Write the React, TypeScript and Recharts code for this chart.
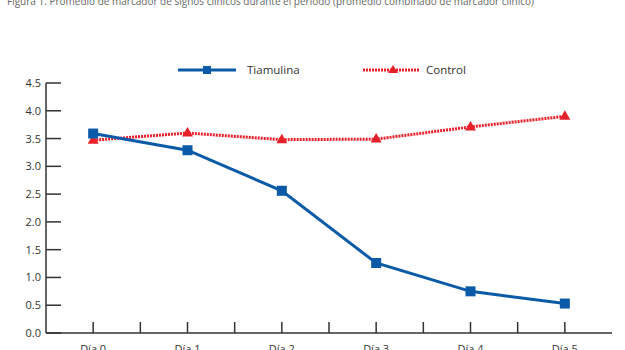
import { LineChart, Line, XAxis, YAxis, Legend } from "recharts";

const days = ["Día 0", "Día 1", "Día 2", "Día 3", "Día 4", "Día 5"];
const tiamulina = [3.59, 3.29, 2.56, 1.26, 0.75, 0.53];
const control = [3.47, 3.6, 3.48, 3.49, 3.71, 3.9];
const yTicks = [0, 0.5, 1, 1.5, 2, 2.5, 3, 3.5, 4, 4.5];
const xTicks = [0, 0.5, 1, 1.5, 2, 2.5, 3, 3.5, 4, 4.5, 5];

const BLUE = "#0b5aa8";
const RED = "#e8202a";
const AXIS = "#333";
const FONT = "'Open Sans', sans-serif";

const data = days.map((d, i) => ({ x: i, day: d, tiamulina: tiamulina[i], control: control[i] }));

function XTick(props: any) {
  const { x, y, payload } = props;
  const v = payload.value as number;
  const label = Number.isInteger(v) ? days[v] : "";
  return (
    <g>
      <line x1={x} x2={x} y1={y} y2={y - 11} stroke={AXIS} strokeWidth={1.5} />
      {label && (
        <text x={x} y={y + 20} textAnchor="middle" fontSize={11} fill={AXIS} fontFamily={FONT}>
          {label}
        </text>
      )}
    </g>
  );
}

function YTick(props: any) {
  const { x, y, payload } = props;
  return (
    <g>
      <line x1={x} x2={x + 15} y1={y} y2={y} stroke={AXIS} strokeWidth={1.5} />
      <text x={x - 5} y={y + 4} textAnchor="end" fontSize={11} fill={AXIS} fontFamily={FONT}>
        {(payload.value as number).toFixed(1)}
      </text>
    </g>
  );
}

function SquareDot(props: any) {
  const { cx, cy, index } = props;
  return <rect key={`s${index}`} x={cx - 5} y={cy - 5} width={10} height={10} fill={BLUE} />;
}

function TriangleDot(props: any) {
  const { cx, cy, index } = props;
  return <path key={`t${index}`} d={`M${cx},${cy - 6} L${cx + 5.5},${cy + 3.5} L${cx - 5.5},${cy + 3.5} Z`} fill={RED} />;
}

function renderLegend() {
  return (
    <svg width={625} height={20} style={{ display: "block" }}>
      <line x1={178} x2={236} y1={10} y2={10} stroke={BLUE} strokeWidth={3} />
      <rect x={203} y={6} width={8} height={8} fill={BLUE} />
      <text x={247} y={14} fontSize={11.5} fill={AXIS} fontFamily={FONT}>Tiamulina</text>
      <line x1={363} x2={420} y1={10} y2={10} stroke={RED} strokeWidth={3} strokeDasharray="2 1" />
      <path d="M393,5 L398,13 L388,13 Z" fill={RED} />
      <text x={426} y={14} fontSize={11.5} fill={AXIS} fontFamily={FONT}>Control</text>
    </svg>
  );
}

export default function App() {
  return (
    <div style={{ position: "fixed", left: 0, top: 0, width: 625, height: 350, overflow: "hidden", background: "#fff" }}>
      <div style={{ position: "absolute", top: -4, left: 7, fontSize: 10, lineHeight: "10px", color: "#666", fontFamily: FONT, whiteSpace: "nowrap" }}>
        Figura 1. Promedio de marcador de signos clínicos durante el periodo (promedio combinado de marcador clínico)
      </div>
      <LineChart width={625} height={365} data={data} margin={{ top: 83, right: 13, bottom: 2, left: 0 }}>
        <XAxis
          type="number"
          dataKey="x"
          domain={[-0.5, 5.5]}
          ticks={xTicks}
          interval={0}
          tickSize={0}
          tickMargin={0}
          tickLine={false}
          height={30}
          axisLine={{ stroke: AXIS, strokeWidth: 1.5 }}
          tick={<XTick />}
        />
        <YAxis
          domain={[0, 4.5]}
          ticks={yTicks}
          interval={0}
          width={46}
          tickSize={0}
          tickMargin={0}
          tickLine={false}
          axisLine={{ stroke: AXIS, strokeWidth: 1.5 }}
          tick={<YTick />}
        />
        <Legend verticalAlign="middle" align="center" content={renderLegend} wrapperStyle={{ top: 60, left: 0, width: 625 }} />
        <Line dataKey="control" name="Control" stroke={RED} strokeWidth={3} strokeDasharray="2 1" dot={TriangleDot} activeDot={false} isAnimationActive={false} />
        <Line dataKey="tiamulina" name="Tiamulina" stroke={BLUE} strokeWidth={3} dot={SquareDot} activeDot={false} isAnimationActive={false} />
      </LineChart>
    </div>
  );
}
